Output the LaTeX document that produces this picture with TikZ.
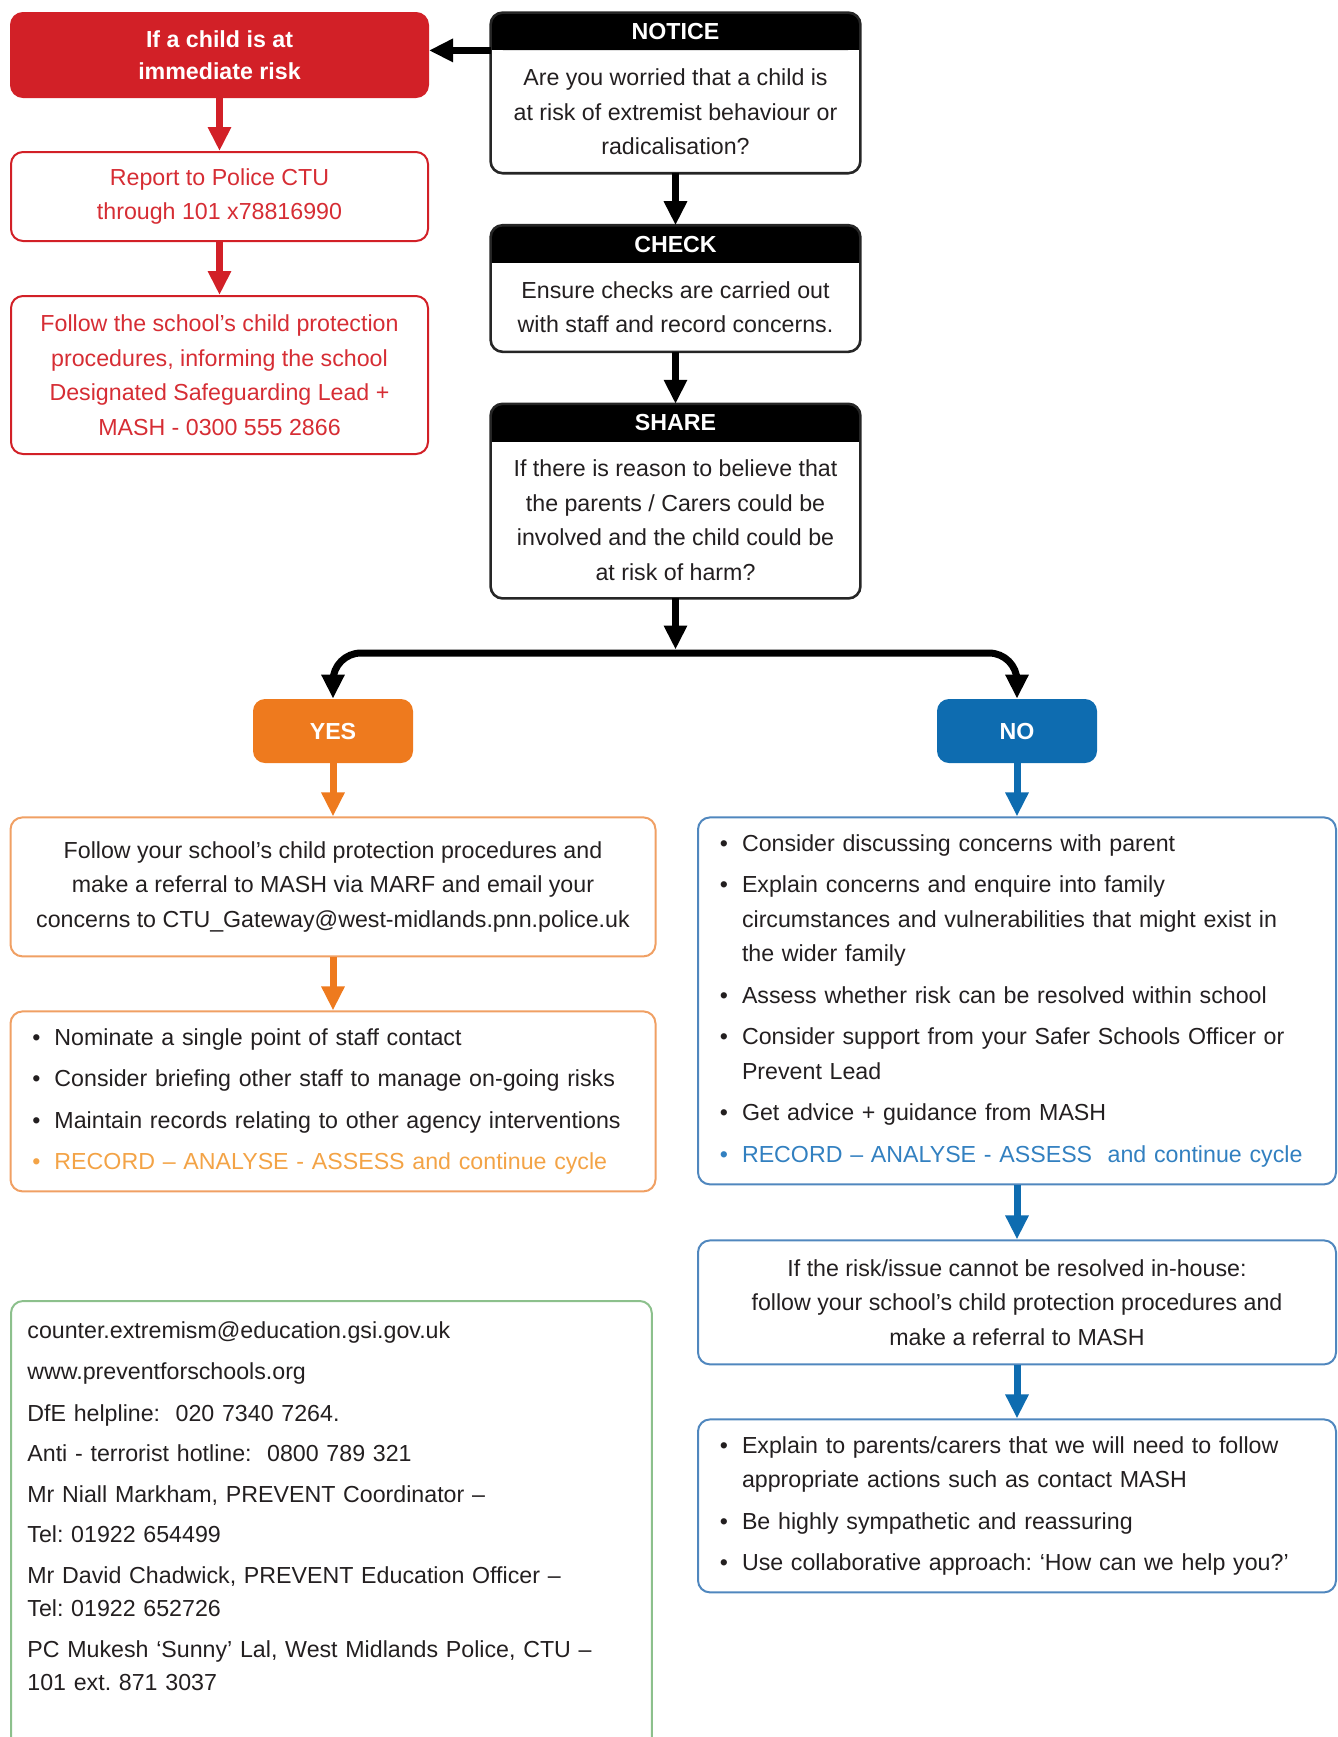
\documentclass[tikz,border=0pt]{standalone}
\usepackage{fontspec}
\setmainfont{Liberation Sans}
\usepackage{enumitem}
\usetikzlibrary{arrows.meta,positioning,backgrounds}
\frenchspacing

\definecolor{riskred}{RGB}{210,32,39}
\definecolor{risktext}{RGB}{214,45,52}
\definecolor{yesorange}{RGB}{238,122,30}
\definecolor{yesline}{RGB}{240,160,100}
\definecolor{yestext}{RGB}{243,163,70}
\definecolor{noblue}{RGB}{14,108,176}
\definecolor{noline}{RGB}{80,135,190}
\definecolor{notext}{RGB}{50,128,192}
\definecolor{infogreen}{RGB}{140,192,140}
\definecolor{ink}{RGB}{35,31,32}

\newcommand{\bodyfont}{\fontsize{11.6}{17.25}\selectfont}
\setlist[itemize]{label=\textbullet, leftmargin=11pt, labelsep=7pt, labelwidth=4pt,
  topsep=0pt, partopsep=0pt, parsep=0pt, itemsep=3.5pt}

\tikzset{
  arr/.style={line width=3.5pt, -{Triangle[length=12pt,width=11pt]}},
  fork/.style={line width=3.5pt, rounded corners=14pt,
    {Triangle[length=12pt,width=11pt]}-{Triangle[length=12pt,width=11pt]}},
  hdr/.style={fill=black, text=white, font=\bodyfont\bfseries, rounded corners=6pt,
    minimum width=184.5pt, minimum height=18.5pt, inner sep=0pt},
  body/.style={text=ink, font=\bodyfont, align=center, minimum width=184.5pt, inner sep=0pt},
  cardline/.style={draw=black!85, line width=1.3pt, rounded corners=6pt},
  redbox/.style={draw=riskred, line width=1pt, rounded corners=6pt, text=risktext,
    font=\bodyfont, align=center, minimum width=208.5pt, inner sep=0pt},
  tagbox/.style={rounded corners=6pt, text=white, font=\bodyfont\bfseries,
    minimum width=80pt, minimum height=32pt, inner sep=0pt},
  yesframe/.style={draw=yesline, line width=1pt, rounded corners=6pt, text=ink,
    font=\bodyfont, minimum width=322.5pt, inner xsep=11pt, inner ysep=0pt},
  noframe/.style={draw=noline, line width=1pt, rounded corners=6pt, text=ink,
    font=\bodyfont, minimum width=319pt, inner xsep=11pt, inner ysep=0pt},
}

\begin{document}
\begin{tikzpicture}[x=0.5pt,y=-0.5pt]
\useasboundingbox (0,0) rectangle (1338,1737);
\clip (0,0) rectangle (1338,1737);

% immediate risk column
\node[redbox, fill=riskred, text=white, font=\fontsize{11.6}{16}\selectfont\bfseries,
  minimum height=42pt] (risk) at (219.5,55) {If a child is at\\immediate risk};
\node[redbox, minimum height=44.5pt] (report) at (219.5,196.5)
  {Report to Police CTU\\through 101 x78816990};
\node[redbox, minimum height=79pt] (follow) at (219.5,375)
  {Follow the school's child protection\\procedures, informing the school\\Designated Safeguarding Lead +\\MASH - 0300 555 2866};
\draw[arr, riskred] (risk) -- (report);
\draw[arr, riskred] (report) -- (follow);

% notice / check / share
\node[hdr] (notice) at (675.5,31.5) {NOTICE};
\node[body, minimum height=61pt, below=0pt of notice] (noticeText)
  {Are you worried that a child is\\at risk of extremist behaviour or\\radicalisation?};
\node[hdr, below=26pt of noticeText] (check) {CHECK};
\node[body, minimum height=44pt, below=0pt of check] (checkText)
  {Ensure checks are carried out\\with staff and record concerns.};
\node[hdr, below=26pt of checkText] (share) {SHARE};
\node[body, minimum height=78pt, below=0pt of share] (shareText)
  {If there is reason to believe that\\the parents / Carers could be\\involved and the child could be\\at risk of harm?};
\begin{scope}[on background layer]
\foreach \h in {notice,check,share}
  \fill (\h.west) rectangle (\h.south east);
\end{scope}
\foreach \h/\t in {notice/noticeText,check/checkText,share/shareText}
  \draw[cardline] (\h.north west) rectangle (\t.south east);

\draw[arr] (notice.south west) -- (notice.south west -| risk.east);
\draw[arr] (noticeText) -- (check);
\draw[arr] (checkText) -- (share);

% yes / no split
\node[tagbox, fill=yesorange] (yes) at (333,731) {YES};
\node[tagbox, fill=noblue] (no) at (1017,731) {NO};
\coordinate (split) at (675.5,653);
\draw[arr] (shareText) -- ([yshift=1.75pt]split);
\draw[fork] (yes) |- (split) -| (no);

% yes branch
\node[yesframe, align=center, inner xsep=0pt, minimum height=69.5pt, below=26.5pt of yes] (yesRefer)
  {Follow your school's child protection procedures and\\make a referral to MASH via MARF and email your\\concerns to CTU\_Gateway@west-midlands.pnn.police.uk};
\node[yesframe, align=left, text width=300.5pt, minimum height=90pt, below=26.5pt of yesRefer] (yesSteps)
  {\vspace{-9pt}\begin{itemize}
   \item Nominate a single point of staff contact
   \item Consider briefing other staff to manage on-going risks
   \item Maintain records relating to other agency interventions
   \item[\textcolor{yestext}{\textbullet}] \textcolor{yestext}{RECORD -- ANALYSE - ASSESS and continue cycle}
   \end{itemize}};
\draw[arr, yesorange] (yes) -- (yesRefer);
\draw[arr, yesorange] (yesRefer) -- (yesSteps);

% no branch
\node[noframe, align=left, text width=297pt, minimum height=183.5pt, below=26.5pt of no] (noSteps)
  {\vspace{-9pt}\begin{itemize}
   \item Consider discussing concerns with parent
   \item Explain concerns and enquire into family\newline circumstances and vulnerabilities that might exist in\newline the wider family
   \item Assess whether risk can be resolved within school
   \item Consider support from your Safer Schools Officer or\newline Prevent Lead
   \item Get advice + guidance from MASH
   \item[\textcolor{notext}{\textbullet}] \textcolor{notext}{RECORD -- ANALYSE - ASSESS\ \ and continue cycle}
   \end{itemize}};
\node[noframe, align=center, inner xsep=0pt, minimum height=62pt, below=27pt of noSteps] (noRefer)
  {If the risk/issue cannot be resolved in-house:\\follow your school's child protection procedures and\\make a referral to MASH};
\node[noframe, align=left, text width=297pt, minimum height=86.5pt, below=26.5pt of noRefer] (noTalk)
  {\vspace{-9pt}\begin{itemize}
   \item Explain to parents/carers that we will need to follow\newline appropriate actions such as contact MASH
   \item Be highly sympathetic and reassuring
   \item Use collaborative approach: `How can we help you?'
   \end{itemize}};
\draw[arr, noblue] (no) -- (noSteps);
\draw[arr, noblue] (noSteps) -- (noRefer);
\draw[arr, noblue] (noRefer) -- (noTalk);

% contacts
\node[anchor=north west, text width=304pt, inner xsep=8pt, inner ysep=10pt, align=left,
  font=\bodyfont, text=ink] (contacts) at (11,1301)
  {counter.extremism@education.gsi.gov.uk\\[3.5pt]
   www.preventforschools.org\\[3.5pt]
   DfE helpline:\ \ 020 7340 7264.\\[3pt]
   Anti - terrorist hotline:\ \ 0800 789 321\\[3pt]
   Mr Niall Markham, PREVENT Coordinator --\\[3pt]
   Tel: 01922 654499\\[3pt]
   Mr David Chadwick, PREVENT Education Officer --\\[-0.5pt]
   Tel: 01922 652726\\[3pt]
   PC Mukesh `Sunny' Lal, West Midlands Police, CTU --\\[-0.5pt]
   101 ext. 871 3037};
\draw[draw=infogreen, line width=1pt, rounded corners=6pt]
  (contacts.north west) rectangle ([yshift=-40pt]contacts.south east);
\end{tikzpicture}
\end{document}
